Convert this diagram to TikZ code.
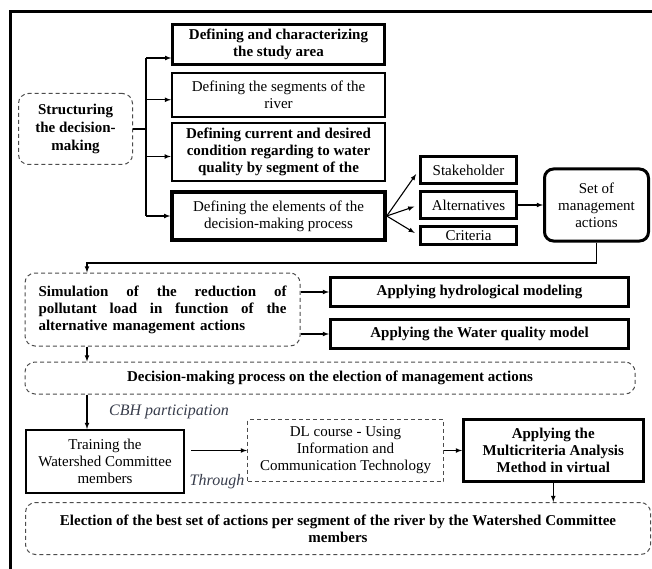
\documentclass[tikz,border=0pt]{standalone}
\usepackage{fontspec}
\setmainfont{Liberation Serif}
\usetikzlibrary{arrows,positioning,calc}
\definecolor{notegray}{RGB}{55,60,75}
\tikzset{
  post/.style    = {-latex, line width=1.1pt},
  plain/.style   = {font=\fontsize{15}{17}\selectfont},
  bold/.style    = {font=\bfseries\fontsize{15}{17}\selectfont},
  task/.style    = {draw, rectangle, line width=2.5pt, align=center, inner sep=2pt},
  element/.style = {draw, rectangle, line width=3pt, align=center, inner sep=1pt, minimum width=96pt, minimum height=27pt, plain},
  phase/.style   = {draw=black!70, rectangle, rounded corners=10pt, line width=1pt, dash pattern=on 4pt off 3pt, align=center},
  note/.style    = {font=\itshape\fontsize{16}{18}\selectfont, text=notegray},
  frame/.style   = {line width=3pt}
}
\begin{document}
\begin{tikzpicture}[x=1pt, y=-1pt, node distance=6pt, plain]
  \useasboundingbox (0,0) rectangle (652,569);
  \draw[frame] (10,569) |- (652,12);

  %Structuring
  \node[phase, minimum width=114pt, minimum height=71pt, font=\bfseries\fontsize{15}{18}\selectfont] (struct) at (75.5,129) {Structuring\\the decision-\\making};
  \node[task, bold, minimum width=212pt, minimum height=40pt] (study) at (278.5,44.5) {Defining and characterizing\\the study area};
  \node[task, line width=2pt, minimum width=213pt, minimum height=44pt] (segments) [below=6pt of study] {Defining the segments of the\\river};
  \node[task, bold, minimum width=213pt, minimum height=58pt] (current) [below=4pt of segments] {Defining current and desired\\condition regarding to water\\quality by segment of the};
  \node[task, line width=3.5pt, minimum width=213pt, minimum height=48pt] (elements) [below=8pt of current] {Defining the elements of the\\decision-making process};
  \coordinate (trunk) at ($(struct.east)+(13,0)$);
  \draw[line width=1.1pt] (struct.east) -- (trunk);
  \draw[line width=1.1pt] ($(trunk |- study.west)+(0,13.5)$) -- (trunk |- elements.west);
  \foreach \n/\dy in {study/13.5, segments/5, current/4.5, elements/0}
    \draw[post] ($(trunk |- \n.west)+(0,\dy)$) -- ($(\n.west)+(0,\dy)$);

  %Elements
  \node[element] (stake) at (468.5,170) {Stakeholder};
  \node[element] (alter) [below=5pt of stake] {Alternatives};
  \node[element, minimum height=18pt] (crit) [below=5pt of alter] {Criteria};
  \node[task, line width=3pt, rounded corners=9pt, minimum width=104pt, minimum height=72pt] (set) [right=25pt of alter] {Set of\\management\\actions};
  \foreach \n in {stake, alter, crit}
    \draw[post, shorten >=5pt] (elements.east) -- (\n.west);
  \draw[post] (alter.east) -- (set.west);

  %Simulation
  \coordinate (bend) at (87,263);
  \node[phase, minimum width=275pt, minimum height=73pt, bold, text width=248pt, align=left] (sim) at (162.5,309.5)
    {Simulation\hfill of\hfill the\hfill reduction\hfill of\\pollutant\hfill load\hfill in\hfill function\hfill of\hfill the\\alternative management actions};
  \node[task, bold, line width=3pt, minimum width=298pt, minimum height=29pt] (hydro) at (479.5,292) {Applying hydrological modeling};
  \node[task, bold, line width=3pt, minimum width=298pt, minimum height=29pt] (quality) [below=10pt of hydro] {Applying the Water quality model};
  \draw[post] (set.south) |- (bend) -- (bend |- sim.north);
  \draw[post] (sim.east |- hydro.west) -- (hydro.west);
  \draw[post] (sim.east |- quality.west) -- (quality.west);

  %Decision
  \node[phase, bold, minimum width=610pt, minimum height=32pt] (decision) at (330,378) {Decision-making process on the election of management actions};
  \draw[post] (sim.south -| bend) -- (decision.north -| bend);

  %Training
  \node[task, line width=2pt, minimum width=158pt, minimum height=63pt] (training) at (105,461.5) {Training the\\Watershed Committee\\members};
  \node[phase, rounded corners=0pt, minimum width=196pt, minimum height=62pt] (course) at (345.5,450.5) {DL course - Using\\Information and\\Communication Technology};
  \node[task, bold, minimum width=180pt, minimum height=62pt] (mca) [right=18pt of course] {Applying the\\Multicriteria Analysis\\Method in virtual};
  \node[phase, bold, minimum width=625pt, minimum height=52pt] (election) at (338,528.5) {Election of the best set of actions per segment of the river by the Watershed Committee\\members};
  \draw[post] (decision.south -| bend) -- (training.north -| bend);
  \draw[post, shorten <=6pt] (training.east |- course.west) -- (course.west);
  \draw[post] (course.east) -- (mca.west);
  \draw[post] (mca.south) -- (mca.south |- election.north);
  %Labels
  \node[note] (cbh) at (169,412) {CBH participation};
  \node[note] (through) at (217,482) {Through};
\end{tikzpicture}
\end{document}
